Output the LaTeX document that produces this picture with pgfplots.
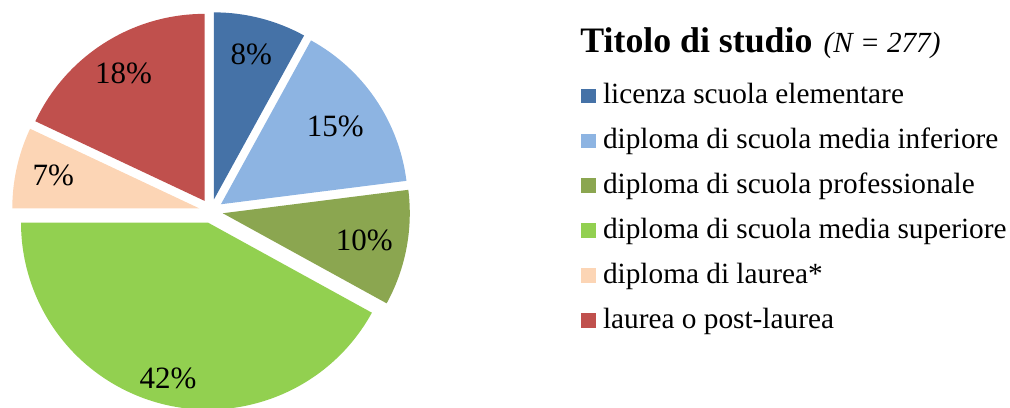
\documentclass[border=0pt]{standalone}
\usepackage{fontspec}
\setmainfont{Liberation Serif}
\usepackage{pgfplots}
\usepackage{pgfplotstable}
\pgfplotsset{compat=1.18}
\definecolor{cBlue}{HTML}{4572A7}
\definecolor{cLBlue}{HTML}{8DB4E2}
\definecolor{cOlive}{HTML}{8BA650}
\definecolor{cGreen}{HTML}{92D050}
\definecolor{cPeach}{HTML}{FCD5B5}
\definecolor{cRed}{HTML}{C0504D}

% share (%), colour, label radius (fraction of pie radius)
\pgfplotstableread{
pct col lr
8 cBlue 0.80
15 cLBlue 0.74
10 cOlive 0.77
42 cGreen 0.86
7 cPeach 0.80
18 cRed 0.81
}\piedata

\begin{document}
\begin{tikzpicture}
\begin{axis}[
  scale only axis, width=505pt, height=203.5pt,
  xmin=0, xmax=1010, ymin=0, ymax=407,
  hide axis, clip=true,
  legend cell align=left,
  legend style={at={(axis cs:581,324.5)}, anchor=north west, draw=none, fill=none,
    inner sep=0pt, outer sep=0pt, row sep=8.45pt, column sep=3.5pt,
    font=\fontsize{14.65}{17}\selectfont,
    nodes={inner sep=0pt, text height=10.5pt, text depth=3.5pt}},
  legend image code/.code={\fill[#1] (0pt,-3.4pt) rectangle (7.5pt,3.9pt);},
]
\pgfplotsextra{
  \pgfplotstablegetrowsof{\piedata}
  \pgfmathtruncatemacro\lastrow{\pgfplotsretval-1}
  \gdef\cum{0}
  \foreach \i in {0,...,\lastrow}{
    \pgfplotstablegetelem{\i}{pct}\of\piedata \let\p\pgfplotsretval
    \pgfplotstablegetelem{\i}{col}\of\piedata \let\slicecol\pgfplotsretval
    \pgfplotstablegetelem{\i}{lr}\of\piedata \let\lr\pgfplotsretval
    \pgfmathsetmacro\aA{90-3.6*\cum}
    \pgfmathsetmacro\aB{90-3.6*(\cum+\p)}
    \pgfmathsetmacro\aM{(\aA+\aB)/2}
    \pgfmathsetmacro\sx{211+12*cos(\aM)}
    \pgfmathsetmacro\sy{196+12*sin(\aM)}
    \pgfmathsetmacro\lx{\sx+\lr*187*cos(\aM)}
    \pgfmathsetmacro\ly{\sy+\lr*187*sin(\aM)}
    \fill[\slicecol] (axis cs:\sx,\sy) -- ++(\aA:93.5pt) arc[start angle=\aA, end angle=\aB, radius=93.5pt] -- cycle;
    \node[font=\fontsize{15.5}{18}\selectfont, inner sep=0pt] at (axis cs:\lx,\ly) {\p\%};
    \pgfmathsetmacro\newcum{\cum+\p}
    \xdef\cum{\newcum}
  }
}
\node[anchor=base west, inner sep=0pt] at (axis cs:580,354)
  {{\fontsize{17.9}{20}\selectfont\bfseries Titolo di studio}\hspace{5.5pt}{\fontsize{14.6}{17}\selectfont\itshape (N = 277)}};
\addlegendimage{fill=cBlue, draw=none}
\addlegendentry{licenza scuola elementare}
\addlegendimage{fill=cLBlue, draw=none}
\addlegendentry{diploma di scuola media inferiore}
\addlegendimage{fill=cOlive, draw=none}
\addlegendentry{diploma di scuola professionale}
\addlegendimage{fill=cGreen, draw=none}
\addlegendentry{diploma di scuola media superiore}
\addlegendimage{fill=cPeach, draw=none}
\addlegendentry{diploma di laurea*}
\addlegendimage{fill=cRed, draw=none}
\addlegendentry{laurea o post-laurea}
\end{axis}
\pgfresetboundingbox
\useasboundingbox (current axis.south west) rectangle (current axis.north east);
\end{tikzpicture}
\end{document}
